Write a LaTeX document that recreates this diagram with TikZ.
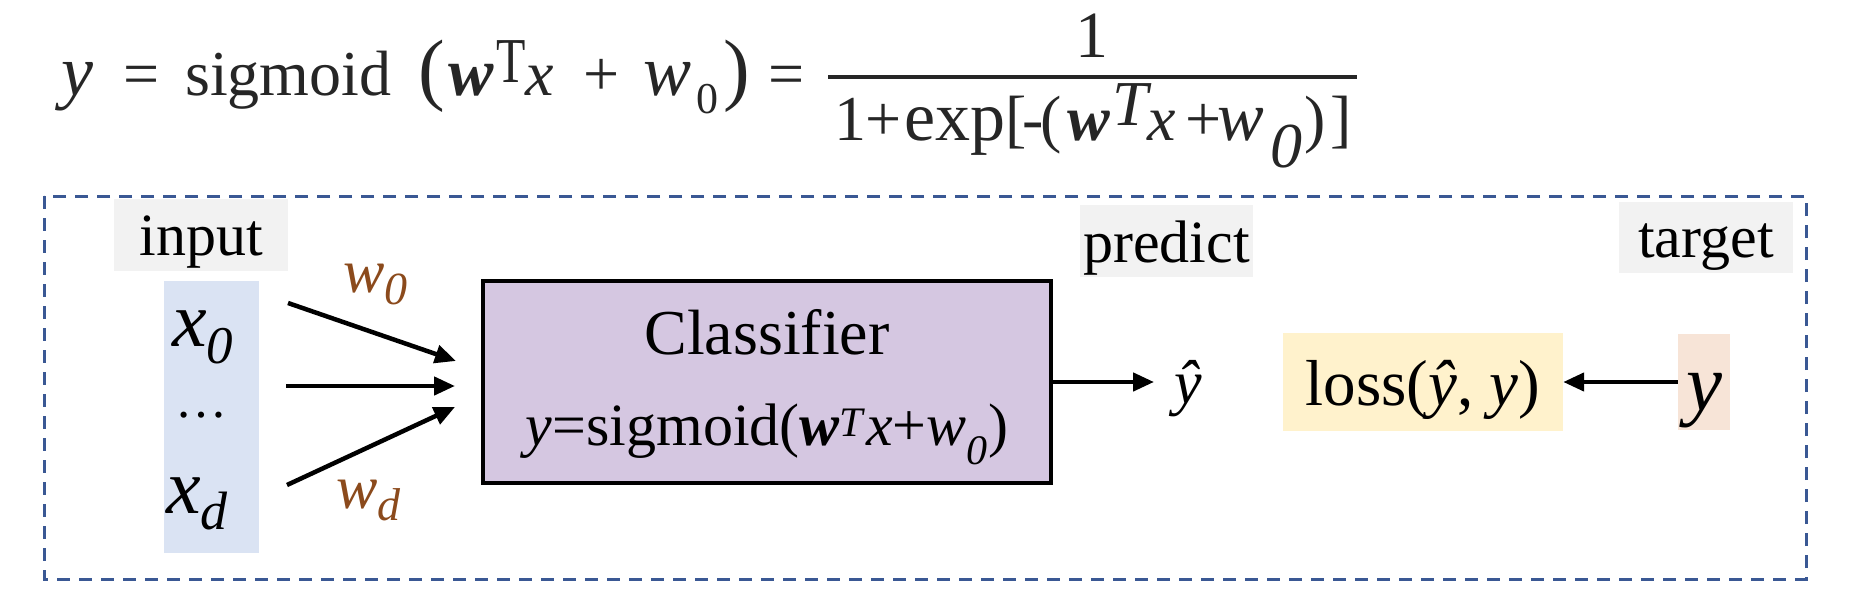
\documentclass[tikz,border=0pt]{standalone}
\usepackage{fontspec}
\usepackage{graphicx}
\setmainfont{Liberation Serif}
\usetikzlibrary{arrows.meta}
\definecolor{framecol}{RGB}{58,88,148}
\definecolor{lblgray}{RGB}{242,242,242}
\definecolor{colblue}{RGB}{218,227,243}
\definecolor{clsfill}{RGB}{213,199,225}
\definecolor{lossfill}{RGB}{255,242,204}
\definecolor{yfill}{RGB}{247,228,215}
\definecolor{wbrown}{RGB}{139,74,28}
\definecolor{fgray}{RGB}{38,38,38}
\newcommand{\myfs}[1]{\fontsize{#1}{#1}\selectfont}
\newcommand{\pc}[2]{\makebox[#1pt][l]{#2}}
\begin{document}
\begin{tikzpicture}[x=1pt,y=-1pt,
  arr/.style={line width=4.5pt,-{Triangle[length=21pt,width=18pt]}},
  lblbox/.style={fill=lblgray,inner sep=0pt,font=\myfs{60}},
  frame/.style={draw=framecol,line width=3pt,dash pattern=on 13pt off 9pt},
  plain/.style={inner sep=0pt}
]
\useasboundingbox (0,0) rectangle (1862,602);

% top formula
\node[plain,anchor=base west,text=fgray,font=\myfs{64}] (lhs) at (61,95)
 {\pc{62}{{\myfs{72}\textit{y}}}\pc{62}{=}\pc{233}{sigmoid}\pc{30}{{\myfs{80}(}}\pc{48}{{\myfs{68}\textbf{\textit{w}}}}\pc{29}{\raisebox{13pt}{\scalebox{0.75}[1]{T}}}\pc{58}{\textit{x}}\pc{60}{+}\pc{53}{{\myfs{72}\textit{w}}}\pc{27}{\raisebox{-18pt}{\myfs{44}0}}\pc{45}{{\myfs{80})}}=};
\node[plain,anchor=base,text=fgray,font=\myfs{66}] (num) at (1092,57) {1};
\draw[fgray,line width=4.5pt] (828,77) -- (1357,77);
\node[plain,anchor=base west,text=fgray,font=\myfs{64}] (den) at (834,140)
 {\pc{31}{1}\pc{39}{+}\pc{101}{{\myfs{70}exp}}\pc{17}{[}\pc{18}{-}\pc{27}{(}\pc{45}{\textbf{\textit{w}}}\pc{35}{\raisebox{15pt}{\textit{T}}}\pc{38}{\textit{x}}\pc{32}{+}\pc{53}{{\myfs{70}\textit{w}}}\pc{34}{\raisebox{-27pt}{\textit{0}}}\pc{26}{)}]};

% frame
\draw[frame] (44,196) rectangle (1806,579);

% input side
\node[lblbox,minimum width=174pt,minimum height=72pt,text height=50pt,text depth=10pt] (inp) at (201,235) {input};
\node[fill=colblue,inner sep=0pt,minimum width=95pt,minimum height=272pt] (col) at (211.5,417) {};
\node[plain,anchor=base west,font=\myfs{78}] (x0) at (172,346) {\textit{x}\raisebox{-17pt}{\myfs{53}\textit{0}}};
\node[plain,font=\myfs{52}] (dots) at (201,415) {…};
\node[plain,anchor=base west,font=\myfs{78}] (xd) at (166,513) {\textit{x}\raisebox{-16pt}{\myfs{54}\textit{d}}};

\coordinate (a0s) at (288,303); \coordinate (a0e) at (456,361);
\coordinate (a1s) at (286,386); \coordinate (a1e) at (455,386);
\coordinate (a2s) at (287,485); \coordinate (a2e) at (455,407);
\draw[arr] (a0s) -- (a0e);
\draw[arr] (a1s) -- (a1e);
\draw[arr] (a2s) -- (a2e);
\node[plain,anchor=base west,text=wbrown,font=\myfs{62}] (w0) at (343,292) {\textit{w}\raisebox{-12pt}{\myfs{46}\textit{0}}};
\node[plain,anchor=base west,text=wbrown,font=\myfs{62}] (wd) at (336,508) {\textit{w}\raisebox{-12pt}{\myfs{46}\textit{d}}};

% classifier
\node[draw=black,line width=3.5pt,fill=clsfill,minimum width=568pt,minimum height=202pt,align=center,inner sep=0pt] (cls) at (767,382)
 {{\myfs{64}\rule{0pt}{56pt}Classifier}\\[47pt]{\myfs{60}\textit{y}=sigmoid(\textbf{\textit{w}}\textsuperscript{\textit{T}}\textit{x}+\textit{w}\textsubscript{\textit{0}})}};

% predict
\node[lblbox,minimum width=173pt,minimum height=72pt,text height=52pt,text depth=10pt] (pred) at (1166.5,241) {predict};
\node[plain,anchor=base,font=\myfs{62}] (yhat) at (1188,403) {\textit{ŷ}};
\draw[arr,shorten >=20pt] (cls.east) -- (cls.east -| yhat.west);

% loss
\node[fill=lossfill,inner sep=0pt,minimum width=280pt,minimum height=98pt,text height=56pt,text depth=10pt,font=\myfs{65}] (loss) at (1423,382) {loss(\textit{ŷ}, \textit{y})};

% target
\node[lblbox,minimum width=174pt,minimum height=71pt,text height=49pt,text depth=10pt] (tgt) at (1706,237.5) {target};
\node[fill=yfill,inner sep=0pt,minimum width=52pt,minimum height=96pt,text height=66pt,text depth=10pt,font=\myfs{81}] (ytgt) at (1704,382) {\textit{y}};
\draw[arr] (ytgt.west) -- (loss.east);
\end{tikzpicture}
\end{document}
